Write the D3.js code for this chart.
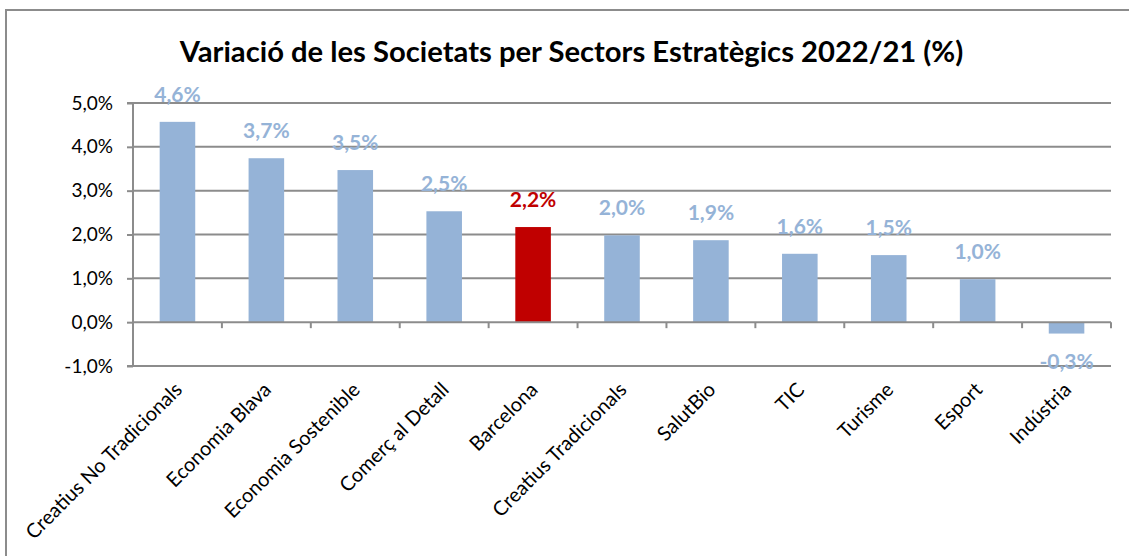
<!DOCTYPE html>
<html>
<head>
<meta charset="utf-8">
<script src="https://cdn.jsdelivr.net/npm/d3@7"></script>
<style>
  html, body { margin: 0; padding: 0; background: #fff; }
  svg { display: block; }
  text { font-family: Lato, "Open Sans", sans-serif; }
</style>
</head>
<body>
<svg id="chart" width="1129" height="556"></svg>
<script>
const title = "Variació de les Societats per Sectors Estratègics 2022/21 (%)";
const categories = ["Creatius No Tradicionals", "Economia Blava", "Economia Sostenible", "Comerç al Detall", "Barcelona", "Creatius Tradicionals", "SalutBio", "TIC", "Turisme", "Esport", "Indústria"];
const values = [4.57, 3.74, 3.47, 2.53, 2.17, 1.98, 1.87, 1.56, 1.53, 0.98, -0.26];
const highlight = ["Barcelona"];
const yTicks = [-1, 0, 1, 2, 3, 4, 5];

const data = categories.map((c, i) => ({ cat: c, val: values[i] }));
const fmt = v => v.toFixed(1).replace(".", ",") + "%";

const svg = d3.select("#chart");
const margin = { left: 133, right: 1111, top: 103, bottom: 366 };
const blue = "#95B3D7", red = "#C00000", grid = "#8c8c8c";

// frame
svg.append("rect").attr("x", 6).attr("y", 10).attr("width", 1140).attr("height", 570)
  .attr("fill", "#fff").attr("stroke", "#8c8c8c").attr("stroke-width", 2);

const x = d3.scaleBand().domain(categories).range([margin.left, margin.right]).paddingInner(0.6).paddingOuter(0.3);
const y = d3.scaleLinear().domain([-1, 5]).range([margin.bottom, margin.top]);

// gridlines
svg.append("g").selectAll("line").data(yTicks.filter(t => t !== 0)).join("line")
  .attr("x1", margin.left).attr("x2", margin.right)
  .attr("y1", d => y(d)).attr("y2", d => y(d))
  .attr("stroke", grid).attr("stroke-width", 2);

// y axis
const yAxis = d3.axisLeft(y).tickValues(yTicks).tickSize(6).tickPadding(14).tickFormat(fmt);
const gy = svg.append("g").attr("transform", `translate(${margin.left},0)`).call(yAxis);
gy.select(".domain").attr("stroke", grid).attr("stroke-width", 2).attr("d", `M-6,${y(5)}H0V${y(-1)}H-6`);
gy.selectAll(".tick line").attr("stroke", grid).attr("stroke-width", 2);
gy.selectAll(".tick text").attr("font-size", 19).attr("fill", "#000").style("font-family", "Lato");

// bars
svg.append("g").selectAll("rect").data(data).join("rect")
  .attr("x", d => x(d.cat))
  .attr("width", x.bandwidth())
  .attr("y", d => y(Math.max(0, d.val)))
  .attr("height", d => Math.abs(y(d.val) - y(0)))
  .attr("fill", d => highlight.includes(d.cat) ? red : blue);

// x axis (at zero)
const xb = d3.scaleLinear().domain([0, categories.length]).range([margin.left, margin.right]);
const gx = svg.append("g");
gx.append("line").attr("x1", margin.left).attr("x2", margin.right).attr("y1", y(0)).attr("y2", y(0))
  .attr("stroke", grid).attr("stroke-width", 2);
gx.selectAll("line.tk").data(d3.range(1, categories.length + 1)).join("line").attr("class", "tk")
  .attr("x1", d => xb(d)).attr("x2", d => xb(d)).attr("y1", y(0)).attr("y2", y(0) + 6)
  .attr("stroke", grid).attr("stroke-width", 2);

// category labels
svg.append("g").selectAll("text").data(categories).join("text")
  .attr("transform", d => `translate(${x(d) + x.bandwidth() / 2 + 1},386) rotate(-45)`)
  .attr("text-anchor", "end").attr("dy", "0.35em")
  .attr("font-size", 20).attr("fill", "#000")
  .text(d => d);

// value labels
svg.append("g").selectAll("text").data(data).join("text")
  .attr("x", d => x(d.cat) + x.bandwidth() / 2)
  .attr("y", d => d.val >= 0 ? y(d.val) - 20 : y(d.val) + 35)
  .attr("text-anchor", "middle")
  .attr("font-size", 21).attr("font-weight", "bold")
  .attr("fill", d => highlight.includes(d.cat) ? red : blue)
  .text(d => fmt(d.val));

// title
svg.append("text").attr("x", 571.5).attr("y", 62).attr("text-anchor", "middle")
  .attr("font-size", 29.2).attr("font-weight", "bold").attr("fill", "#000").text(title);
</script>
</body>
</html>
